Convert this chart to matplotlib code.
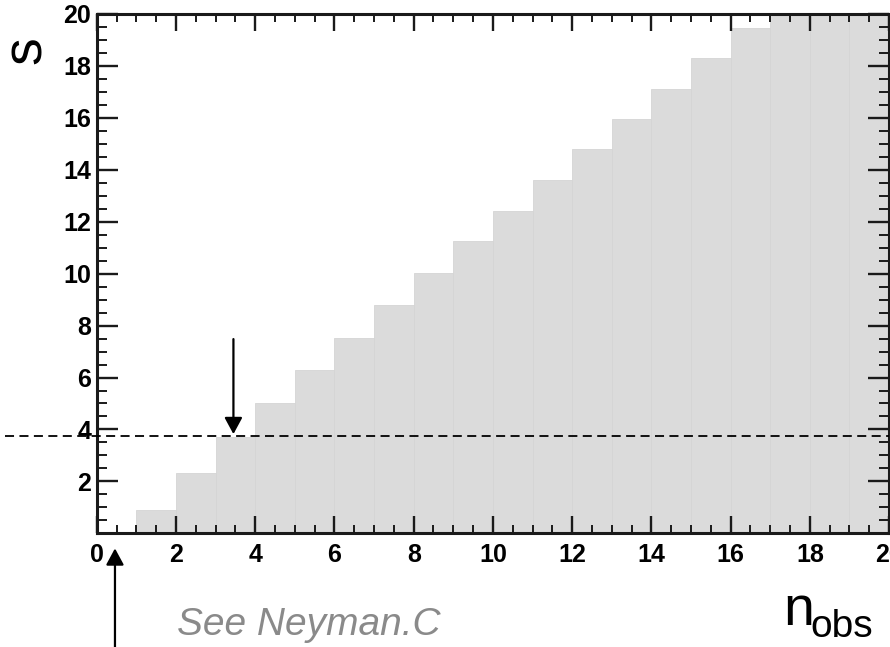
import matplotlib
matplotlib.use("Agg")
import matplotlib.pyplot as plt
from matplotlib.patches import FancyArrowPatch
from matplotlib.ticker import MultipleLocator

# Upper edge of the acceptance belt for each observed count n (bin width 1)
n_obs = list(range(20))
s_upper = [0.0, 0.90, 2.34, 3.70, 5.01, 6.29, 7.54, 8.80, 10.04, 11.24,
           12.43, 13.62, 14.79, 15.97, 17.13, 18.30, 19.46, 20.0, 20.0, 20.0]

s_limit = 3.75          # horizontal line at the chosen signal value
arrow_down_x = 3.45     # marker arrow pointing at the belt edge
arrow_down_from = 7.48
arrow_up_x = 0.46       # marker arrow under the x axis

x_ticks = list(range(0, 21, 2))
y_ticks = list(range(2, 21, 2))

fig = plt.figure(figsize=(8.9, 6.47), dpi=100)
ax = fig.add_axes([0.1087, 0.1757, 0.8903, 0.8027])

ax.bar(n_obs, s_upper, width=1.0, align="edge", color="#dbdbdb",
       edgecolor="#d5d5d5", linewidth=0.6, zorder=1)

ax.set_xlim(0, 20)
ax.set_ylim(0, 20)
ax.set_xticks(x_ticks)
ax.set_yticks(y_ticks)
ax.xaxis.set_minor_locator(MultipleLocator(0.5))
ax.yaxis.set_minor_locator(MultipleLocator(0.5))

for sp in ax.spines.values():
    sp.set_linewidth(2.2)
    sp.set_color("#1a1a1a")
    sp.set_zorder(5)

ax.tick_params(axis="x", which="major", direction="in", length=12, width=1.7,
               top=True, bottom=True, pad=7, color="#1a1a1a")
ax.tick_params(axis="x", which="minor", direction="in", length=6, width=1.4,
               top=True, bottom=True, color="#1a1a1a")
ax.tick_params(axis="y", which="major", direction="in", length=15, width=1.7,
               left=True, right=True, pad=4, color="#1a1a1a")
ax.tick_params(axis="y", which="minor", direction="in", length=7.5, width=1.4,
               left=True, right=True, color="#1a1a1a")

for lab in ax.get_xticklabels() + ax.get_yticklabels():
    lab.set_fontfamily("Liberation Sans")
    lab.set_fontweight("bold")
    lab.set_fontsize(18)

# Dashed line across the whole figure width
ax.plot([-2.32, 20], [s_limit, s_limit], color="black", lw=1.3,
        dashes=(5, 3), clip_on=False, zorder=6)

arrow_style = "-|>,head_length=0.5,head_width=0.27"
down = FancyArrowPatch((arrow_down_x, arrow_down_from),
                       (arrow_down_x, s_limit + 0.07),
                       arrowstyle=arrow_style, mutation_scale=20,
                       color="black", lw=1.6, shrinkA=0, shrinkB=0,
                       clip_on=False, zorder=7)
ax.add_patch(down)
up = FancyArrowPatch((arrow_up_x, -4.5), (arrow_up_x, -0.58),
                     arrowstyle=arrow_style, mutation_scale=20,
                     color="black", lw=1.6, shrinkA=0, shrinkB=0,
                     clip_on=False, zorder=7)
ax.add_patch(up)

# Axis titles
fig.text(27 / 890, 1 - 50 / 647, "s", rotation=90, ha="center", va="center",
         fontsize=40, family="Liberation Sans")
fig.text(783 / 890, 1 - 625 / 647, "n", ha="left", va="baseline",
         fontsize=40, family="Liberation Sans")
fig.text(810 / 890, 1 - 637 / 647, "obs", ha="left", va="baseline",
         fontsize=28, family="Liberation Sans")

fig.text(177 / 890, 1 - 635 / 647, "See Neyman.C", ha="left", va="baseline",
         fontsize=28, family="Liberation Sans", style="italic", color="#8a8a8a")

fig.savefig("out.png", dpi=100)
